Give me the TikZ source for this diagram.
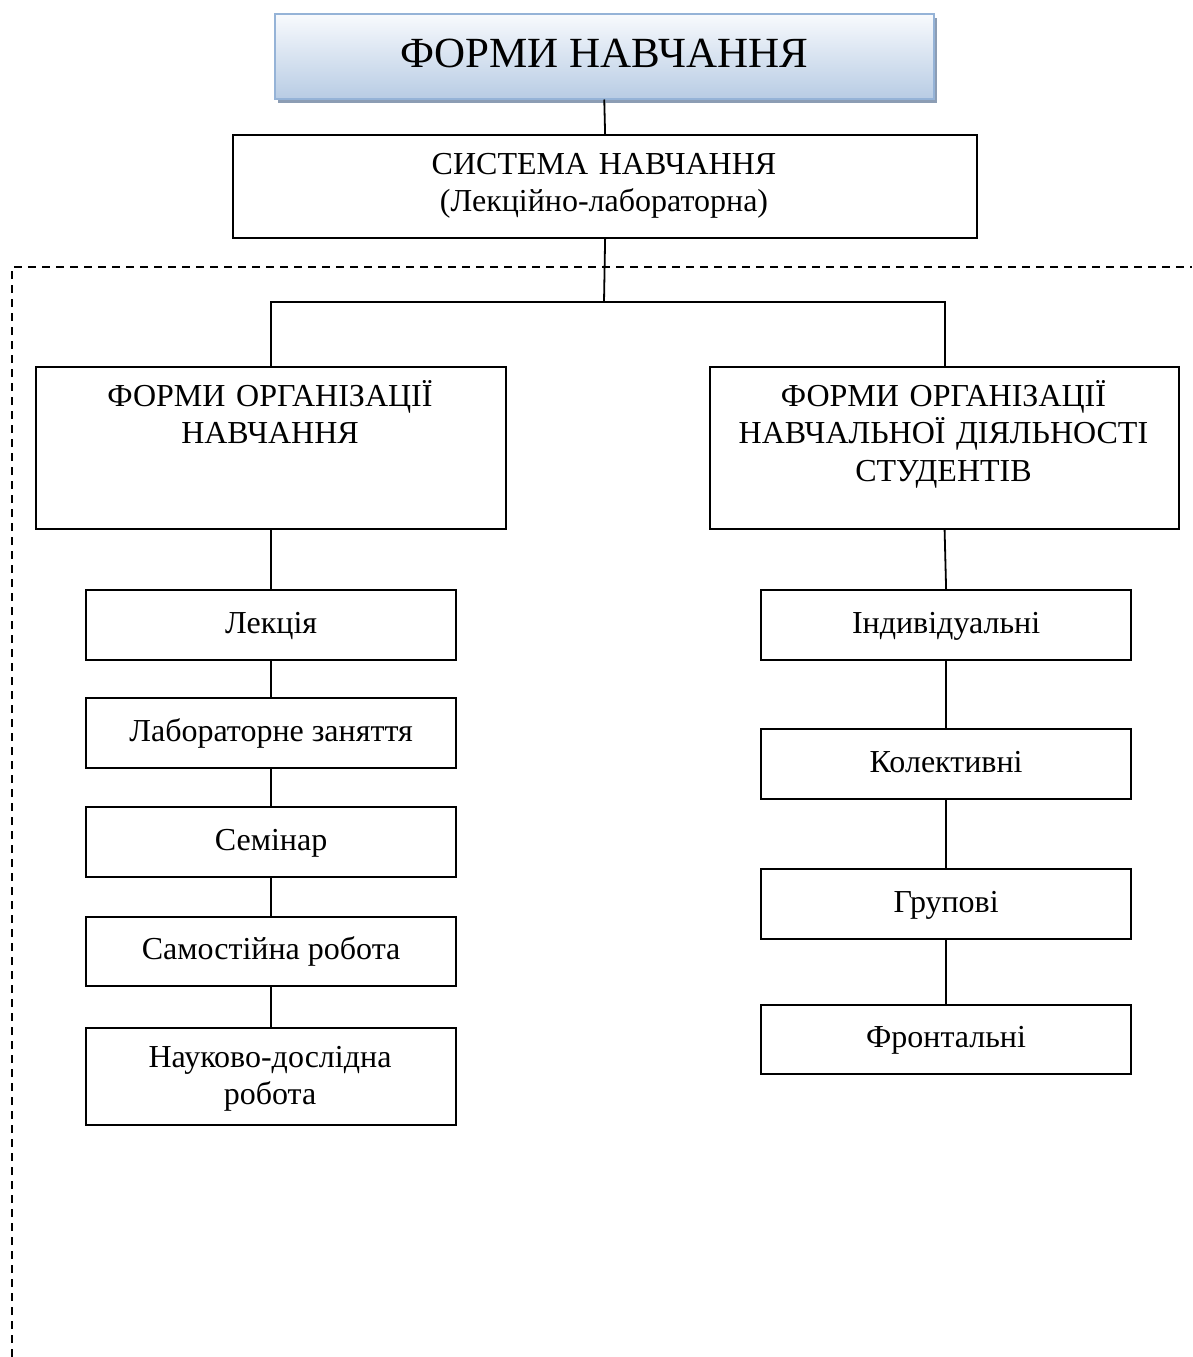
\documentclass[tikz,border=0pt]{standalone}
\usepackage{fontspec}
\setmainfont{Liberation Serif}
\usetikzlibrary{shadows}
\definecolor{tborder}{HTML}{95B3D7}
\definecolor{ttop}{HTML}{F8FAFD}
\definecolor{tbot}{HTML}{B8CCE4}
\definecolor{tshadow}{HTML}{8C9DB4}
\begin{document}
\begin{tikzpicture}[x=1pt,y=-1pt,line width=2pt,
  box/.style={draw=black,line width=2.2pt,rectangle,inner sep=0pt,anchor=north west},
  txt/.style={font=\fontsize{32}{37.5}\selectfont,inner sep=0pt},
  oneline/.style={txt,text height=24pt,text depth=8pt},
  multi/.style={txt,align=center,anchor=base},
  smallbox/.style={box,oneline,minimum width=370pt},
  conn/.style={draw=black,line width=1.8pt},
  frame/.style={draw=black,line width=2pt,dash pattern=on 8pt off 6pt}]
\useasboundingbox (0,0) rectangle (1192,1357);

% dashed frame
\coordinate (fa) at (12,1357);
\coordinate (fb) at (12,267);
\coordinate (fc) at (1192,267);
\draw[frame] (fa) -- (fb) -- (fc);

% title
\node[box,draw=tborder,line width=1.5pt,top color=ttop,bottom color=tbot,
  drop shadow={shadow xshift=3.5pt,shadow yshift=-4pt,fill=tshadow,opacity=1},
  minimum width=659pt,minimum height=85pt,
  font=\fontsize{43}{48}\selectfont,text height=32pt,text depth=9pt]
  (title) at (274,13) {ФОРМИ НАВЧАННЯ};

% system
\node[box,minimum width=744pt,minimum height=103pt] (sys) at (232,134) {};
\node[multi,text width=700pt] (syst) at (604,174) {СИСТЕМА НАВЧАННЯ\\(Лекційно-лабораторна)};

% big boxes
\node[box,minimum width=470pt,minimum height=162pt] (lb) at (35,366) {};
\node[multi,text width=460pt] (lbt) at (270,406) {ФОРМИ ОРГАНІЗАЦІЇ\\НАВЧАННЯ};
\node[box,minimum width=469pt,minimum height=162pt] (rb) at (709,366) {};
\node[multi,text width=460pt] (rbt) at (943.5,406) {ФОРМИ ОРГАНІЗАЦІЇ\\НАВЧАЛЬНОЇ ДІЯЛЬНОСТІ\\СТУДЕНТІВ};

% left column
\node[smallbox,minimum height=70pt] (b1) at (85,589) {Лекція};
\node[smallbox,minimum height=70pt] (b2) at (85,697) {Лабораторне заняття};
\node[smallbox,minimum height=70pt] (b3) at (85,806) {Семінар};
\node[smallbox,minimum height=69pt] (b4) at (85,916) {Самостійна робота};
\node[box,minimum width=370pt,minimum height=97pt] (b5) at (85,1027) {};
\node[multi,text width=360pt] (b5t) at (270,1067) {Науково-дослідна\\робота};

% right column
\node[smallbox,minimum height=70pt] (r1) at (760,589) {Індивідуальні};
\node[smallbox,minimum height=70pt] (r2) at (760,728) {Колективні};
\node[smallbox,minimum height=70pt] (r3) at (760,868) {Групові};
\node[smallbox,minimum height=69pt] (r4) at (760,1004) {Фронтальні};

% connectors
\coordinate (jn) at (604,302);
\draw[conn] (title.south) -- (sys.north);
\draw[conn] (sys.south) -- (jn);
\draw[conn] (lb.north) |- (jn) -| (rb.north);
\draw[conn] (lb.south) -- (b1.north);
\draw[conn] (b1.south) -- (b2.north);
\draw[conn] (b2.south) -- (b3.north);
\draw[conn] (b3.south) -- (b4.north);
\draw[conn] (b4.south) -- (b5.north);
\draw[conn] (rb.south) -- (r1.north);
\draw[conn] (r1.south) -- (r2.north);
\draw[conn] (r2.south) -- (r3.north);
\draw[conn] (r3.south) -- (r4.north);
\end{tikzpicture}
\end{document}
